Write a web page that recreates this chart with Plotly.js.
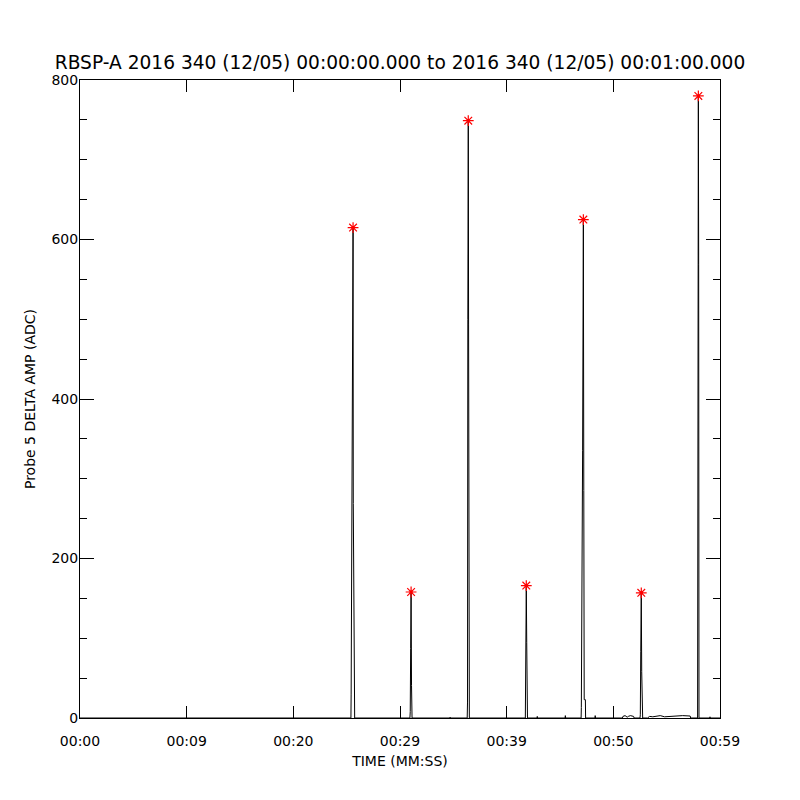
<!DOCTYPE html>
<html>
<head>
<meta charset="utf-8">
<script src="https://cdn.plot.ly/plotly-3.0.1.min.js"></script>
<style>html,body{margin:0;padding:0;background:#fff;}#chart{width:800px;height:800px;}</style>
</head>
<body>
<div id="chart"></div>
<script>
// Time in seconds after 00:00:00 and Probe 5 delta amplitude (ADC)
var timeSec = [0, 25.40, 25.42, 25.49, 25.60, 25.62, 25.70, 25.75,
  30.93, 30.96, 31.00, 31.04, 31.08, 31.13,
  34.68, 34.70, 34.72,
  36.30, 36.33, 36.36, 36.40, 36.43, 36.50,
  41.75, 41.78, 41.84, 41.88, 41.92, 41.95,
  42.85, 42.87, 42.89,
  45.48, 45.50, 45.53,
  46.98, 47.00, 47.12, 47.19, 47.23, 47.27, 47.38, 47.40,
  48.28, 48.30, 48.33,
  50.85, 50.90, 51.10, 51.30, 51.40, 51.60, 51.90, 51.95,
  52.50, 52.53, 52.57, 52.62, 52.66, 52.70, 52.75,
  53.20, 53.40, 53.70, 54.00, 54.40, 54.80, 55.20, 55.60, 55.80, 56.50, 57.20, 57.25,
  57.90, 57.91, 57.97, 58.00, 58.01, 58.03,
  59.04, 59.06, 59.08, 60];
var ampADC = [0, 0, 30, 338, 615, 269, 5, 0,
  0, 8, 87, 158, 41, 0,
  0, 1, 0,
  0, 20, 500, 749, 494, 0,
  0, 121, 166, 95, 4, 0,
  0, 2, 0,
  0, 3, 0,
  0, 13, 335, 625, 285, 23, 23, 0,
  0, 3, 0,
  0, 2, 3, 1, 2, 3, 2, 0,
  0, 4, 83, 157, 58, 4, 0,
  0, 2, 1.5, 2, 3, 1.5, 2, 2, 2.5, 3, 2.5, 0,
  0, 484, 780, 569, 484, 0,
  0, 1.5, 0, 0];
var peakTime = [25.60, 31.04, 36.40, 41.84, 47.19, 52.62, 57.97];
var peakAmp = [615, 158, 749, 166, 625, 157, 780];
var tickVals = [0, 10, 20, 30, 40, 50, 60];
var tickText = ['00:00', '00:09', '00:20', '00:29', '00:39', '00:50', '00:59'];
var yTickVals = [0, 200, 400, 600, 800];

var font = 'DejaVu Sans, sans-serif';
var traces = [
  {x: timeSec, y: ampADC, type: 'scatter', mode: 'lines',
   line: {color: '#000', width: 1}, hoverinfo: 'skip'},
  {x: peakTime, y: peakAmp, type: 'scatter', mode: 'markers',
   marker: {symbol: 'asterisk-open', size: 9, color: '#ff0000', line: {color: '#ff0000', width: 1.2}}},
  {x: peakTime, y: peakAmp, type: 'scatter', mode: 'markers',
   marker: {symbol: 'circle', size: 3, color: '#ff0000'}}
];
var layout = {
  width: 800, height: 800,
  margin: {l: 80, r: 80, t: 80, b: 82},
  paper_bgcolor: '#fff', plot_bgcolor: '#fff',
  showlegend: false,
  font: {family: font, color: '#000', size: 14},
  title: {text: 'RBSP-A 2016 340 (12/05) 00:00:00.000 to 2016 340 (12/05) 00:01:00.000',
          x: 0.5, xanchor: 'center', y: 1 - 62/800, yanchor: 'middle',
          font: {family: font, size: 18.6, color: '#000'}},
  xaxis: {range: [0, 60], tickvals: tickVals, ticktext: tickText,
          ticks: 'inside', ticklen: 12, tickwidth: 1, tickcolor: '#000',
          ticklabelstandoff: 10,
          showline: true, linecolor: '#000', linewidth: 1, mirror: 'ticks',
          showgrid: false, zeroline: false,
          tickfont: {family: font, size: 14, color: '#000'},
          title: {text: 'TIME (MM:SS)', font: {family: font, size: 14, color: '#000'}, standoff: 8}},
  yaxis: {range: [0, 800], tickvals: yTickVals,
          ticks: 'inside', ticklen: 14, tickwidth: 1, tickcolor: '#000',
          ticklabelstandoff: -2,
          minor: {dtick: 50, ticks: 'inside', ticklen: 7, tickcolor: '#000', showgrid: false},
          showline: true, linecolor: '#000', linewidth: 1, mirror: 'ticks',
          showgrid: false, zeroline: false,
          tickfont: {family: font, size: 14, color: '#000'},
          title: {text: 'Probe 5 DELTA AMP (ADC)', font: {family: font, size: 14, color: '#000'}, standoff: 12}}
};
Plotly.newPlot('chart', traces, layout, {displayModeBar: false, staticPlot: true});
</script>
</body>
</html>
